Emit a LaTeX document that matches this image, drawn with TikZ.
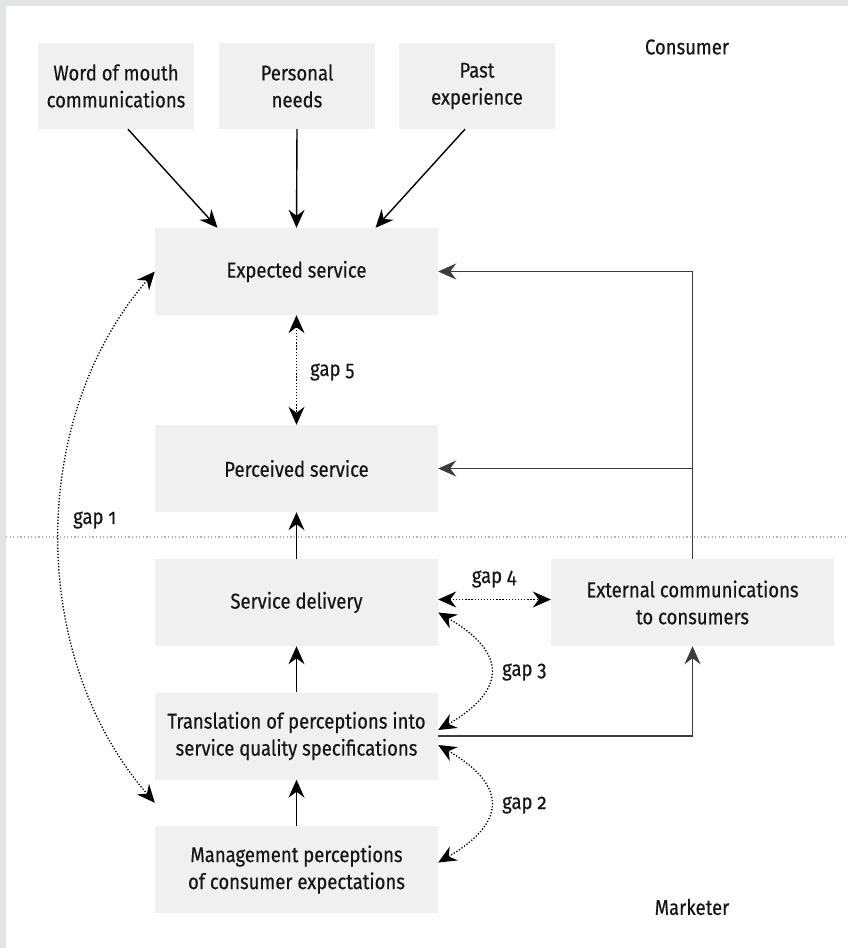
\documentclass[tikz,border=0pt]{standalone}
\usepackage{fontspec}
\setmainfont{Fira Sans}[Numbers=OldStyle, FakeStretch=0.86, FakeBold=0.4]
\usetikzlibrary{arrows.meta,calc}

\definecolor{boxgray}{HTML}{F0F0F0}
\definecolor{framegray}{HTML}{E3E4E4}
\definecolor{sepgray}{HTML}{B4B4B4}
\definecolor{inkgray}{HTML}{3C3C3C}
\definecolor{textblack}{HTML}{161616}

\begin{document}
\begin{tikzpicture}[x=1pt,y=-1pt,
  txt/.style={font=\fontsize{21.5}{27}\selectfont, text=textblack},
  box/.style={txt, fill=boxgray, inner sep=0pt, align=center,
    minimum width=283pt, minimum height=87pt},
  topbox/.style={box, minimum width=156pt, minimum height=86pt},
  tip/.tip={Stealth[length=18pt,width=16pt,inset=6pt]},
  link/.style={draw=black, line width=1.4pt, -tip},
  feed/.style={draw=inkgray, line width=1.6pt, -tip},
  gapline/.style={draw=black, line width=1.3pt, dash pattern=on 1.3pt off 1.8pt, tip-tip},
  gaplabel/.style={txt, inner sep=0pt, anchor=west},
  sep/.style={draw=sepgray, line width=1.2pt, dash pattern=on 1.2pt off 2.4pt}
]
  % frame
  \useasboundingbox (0,0) rectangle (848,948);
  \fill[framegray] (0,0) rectangle (848,948);
  \fill[white] (6,6) rectangle (848,948);

  % consumer / marketer divide
  \coordinate (sepL) at (6,537);
  \coordinate (sepR) at (848,537);
  \draw[sep] (sepL) -- (sepR);

  % side captions
  \node[txt] (consumer) at (687,47) {Consumer};
  \node[txt] (marketer) at (692,907) {Marketer};

  % influences on expectations
  \node[topbox] (wom) at (116,86) {Word of mouth\\communications};
  \node[topbox] (needs) at (297,86) {Personal\\needs};
  \node[topbox] (past) at (477,86) {Past\\experience};

  % main chain
  \node[box] (ex) at (296.5,271.5) {Expected service};
  \node[box] (pe) at (296.5,468.5) {Perceived service};
  \node[box] (sd) at (296.5,602.5) {Service delivery};
  \node[box] (ext) at (692.5,602.5) {External communications\\to consumers};
  \node[box] (tr) at (296.5,736) {Translation of perceptions into\\service quality specifications};
  \node[box] (mg) at (296.5,869.5) {Management perceptions\\of consumer expectations};

  % solid flows
  \draw[link] ($(wom.south)+(12,0)$) -- ($(ex.north)+(-79,0)$);
  \draw[link] (needs.south) -- (ex.north);
  \draw[link] ($(past.south)+(-12,0)$) -- ($(ex.north)+(79,0)$);
  \draw[link] (sd.north) -- (pe.south);
  \draw[link] (tr.north) -- (sd.south);
  \draw[link] (mg.north) -- (tr.south);

  % communications feed back into expectations and perceptions
  \draw[feed] (ext.north) |- (ex.east);
  \coordinate (branch) at (ext.north |- pe.east);
  \draw[feed] (branch) -- (pe.east);
  \draw[feed] (tr.east) -| (ext.south);

  % gap 1
  \coordinate (g1end) at ($(tr.south west)!0.5!(mg.north west)$);
  \draw[gapline] (ex.west) .. controls +(-127,146) and +(-127,-146) .. (g1end);
  \node[gaplabel] (gap1) at (73,520) {gap 1};

  % gap 5
  \draw[gapline] (ex.south) -- (pe.north);
  \node[gaplabel] (gap5) at (310,372) {gap 5};

  % gap 4
  \draw[gapline] ($(sd.east)+(0,-3)$) -- ($(ext.west)+(0,-3)$);
  \node[txt, inner sep=0pt] (gap4) at (494,579) {gap 4};

  % gap 3
  \draw[gapline] ($(sd.east)+(0,10)$) .. controls +(69,40) and +(69,-40) .. ($(tr.east)+(0,-6)$);
  \node[gaplabel] (gap3) at (502,672) {gap 3};

  % gap 2
  \draw[gapline] ($(tr.east)+(0,9)$) .. controls +(69,40) and +(69,-40) .. ($(mg.east)+(0,-7)$);
  \node[gaplabel] (gap2) at (502,805) {gap 2};
\end{tikzpicture}
\end{document}
